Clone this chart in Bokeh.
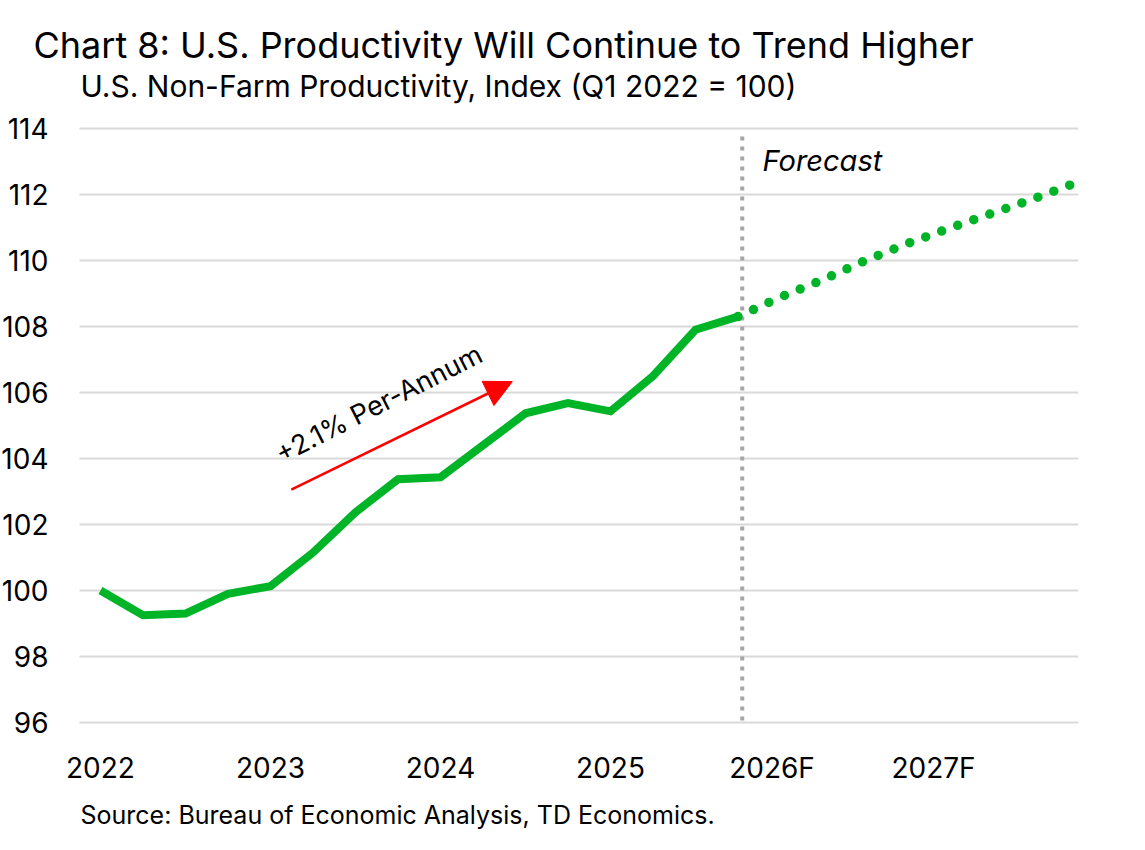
from bokeh.plotting import figure
from bokeh.models import Range1d, FixedTicker, Arrow, NormalHead, Label
from bokeh.embed import file_html
from bokeh.resources import INLINE

# ---- data (quarter index: 0 = Q1 2022) ----
hist_quarters = list(range(0, 16))
hist_values = [100.0, 99.25, 99.3, 99.9, 100.13, 101.15, 102.37, 103.37,
               103.43, 104.4, 105.37, 105.68, 105.43, 106.5, 107.9, 108.3]
fcst_quarters = list(range(15, 24))
fcst_values = [108.3, 108.89, 109.42, 110.0, 110.52, 110.99, 111.44, 111.89, 112.38]
year_tick_pos = [0, 4, 8, 12, 15.8, 19.6]
year_labels = ["2022", "2023", "2024", "2025", "2026F", "2027F"]
y_ticks = [96, 98, 100, 102, 104, 106, 108, 110, 112, 114]
forecast_boundary = 15.1
trend_x = [4.49, 9.69]
trend_y = [103.06, 106.33]
trend_label = "+2.1% Per-Annum"

FONT = "Inter"
GREEN = "#00B428"

# ---- layout helpers: canvas pixel -> data coordinate ----
PX_Q0, PX_PER_Q = 100.0, 42.5      # x pixel of Q1 2022, pixels per quarter
PY_96, PX_PER_UNIT = 722.0, 33.0    # y pixel of value 96, pixels per index point
def xd(px):
    return (px - PX_Q0) / PX_PER_Q
def yd(py):
    return 96 + (PY_96 - py) / PX_PER_UNIT

p = figure(width=1129, height=834, output_backend="svg", toolbar_location=None,
           title=None,
           x_range=Range1d(xd(0), xd(1078)), y_range=Range1d(yd(834), yd(0)),
           min_border_left=0, min_border_right=51, min_border_top=0,
           min_border_bottom=0)
p.outline_line_color = None
p.background_fill_color = "white"
p.border_fill_color = "white"
p.xgrid.visible = False
p.ygrid.visible = False

for ax in (p.xaxis[0], p.yaxis[0]):
    ax.axis_line_color = None
    ax.major_tick_line_color = None
    ax.minor_tick_line_color = None
    ax.major_tick_out = 0
    ax.major_tick_in = 0
    ax.major_label_text_font = FONT
    ax.major_label_text_font_size = "28px"
    ax.major_label_text_color = "black"

p.yaxis.ticker = FixedTicker(ticks=y_ticks)
p.yaxis.fixed_location = xd(79)
p.yaxis.major_label_standoff = 31
p.xaxis.ticker = FixedTicker(ticks=year_tick_pos)
p.xaxis.major_label_overrides = {t: l for t, l in zip(year_tick_pos, year_labels)}
p.xaxis.fixed_location = y_ticks[0]
p.xaxis.major_label_standoff = 28

# horizontal gridlines at the y ticks, spanning the plotting area
p.segment(x0=[xd(79)] * len(y_ticks), x1=[xd(1078)] * len(y_ticks),
          y0=y_ticks, y1=y_ticks, line_color="#d9d9d9", line_width=2)

# forecast boundary
p.segment(x0=[forecast_boundary], x1=[forecast_boundary], y0=[yd(720)], y1=[yd(133)],
          line_color="#a6a6a6", line_width=4, line_dash="4 6")

p.line(hist_quarters, hist_values, line_color=GREEN, line_width=8, line_join="miter")
p.line(fcst_quarters, fcst_values, line_color=GREEN, line_width=9.5,
       line_dash="0 17", line_cap="round")

p.add_layout(Arrow(end=NormalHead(size=27, fill_color="red", line_color="red"),
                   x_start=trend_x[0], y_start=trend_y[0],
                   x_end=trend_x[1], y_end=trend_y[1],
                   line_color="red", line_width=2.5))

p.add_layout(Label(x=xd(277), y=yd(455), text=trend_label, angle=27, angle_units="deg",
                   text_font=FONT, text_font_size="27px", text_color="black",
                   text_baseline="middle"))

p.add_layout(Label(x=xd(762), y=yd(159.5), text="Forecast", text_font=FONT,
                   text_font_size="29px", text_font_style="italic",
                   text_color="black", text_baseline="middle"))

p.add_layout(Label(x=xd(33), y=yd(44),
                   text="Chart 8: U.S. Productivity Will Continue to Trend Higher",
                   text_font=FONT, text_font_size="36px", text_color="black",
                   text_baseline="middle"))
p.add_layout(Label(x=xd(80), y=yd(85),
                   text="U.S. Non-Farm Productivity, Index (Q1 2022 = 100)",
                   text_font=FONT, text_font_size="30px", text_color="black",
                   text_baseline="middle"))
p.add_layout(Label(x=xd(80), y=yd(814),
                   text="Source: Bureau of Economic Analysis, TD Economics.",
                   text_font=FONT, text_font_size="25px", text_color="black",
                   text_baseline="middle"))

open("out.html", "w").write(file_html(p, INLINE))
